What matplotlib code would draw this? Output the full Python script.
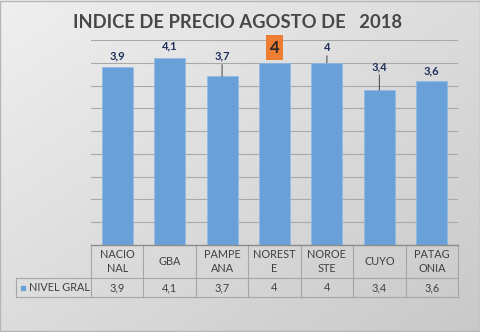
import numpy as np
import matplotlib
matplotlib.use("Agg")
import matplotlib.pyplot as plt
from matplotlib.transforms import blended_transform_factory
from matplotlib.patches import Rectangle
from matplotlib.lines import Line2D

# ---- data ----
categories = ["NACIO\nNAL", "GBA", "PAMPE\nANA", "NOREST\nE", "NOROE\nSTE", "CUYO", "PATAG\nONIA"]
values = [3.9, 4.1, 3.7, 4.0, 4.0, 3.4, 3.6]
value_labels = ["3,9", "4,1", "3,7", "4", "4", "3,4", "3,6"]
series_name = "NIVEL GRAL"
title = "INDICE DE PRECIO AGOSTO DE   2018"

W, H = 481, 332
fig = plt.figure(figsize=(W / 100, H / 100), dpi=100)
plt.rcParams['font.family'] = ['Lato', 'DejaVu Sans']

# background gradient
bg = fig.add_axes([0, 0, 1, 1], zorder=-10)
yy, xx = np.mgrid[0:1:100j, 0:1:100j]
grad = 0.5 * xx + 0.5 * yy
bg.imshow(grad, cmap=matplotlib.colors.LinearSegmentedColormap.from_list(
    "g", ["#efefef", "#c9c9c9"]), extent=[0, 1, 0, 1], aspect='auto', origin='upper')
bg.set_xlim(0, 1); bg.set_ylim(0, 1)
bg.axis('off')
bg.add_patch(Rectangle((0.001, 0.002), 0.997, 0.995, fill=False, ec="#b5b5b5", lw=1.0,
                       transform=bg.transAxes))

def px(x, y):
    return (x / W, 1 - y / H)

left, right, top, base = 91, 458, 40, 245
ax = fig.add_axes([left / W, (H - base) / H, (right - left) / W, (base - top) / H])
ax.set_facecolor('none')
x = np.arange(len(categories))
ax.set_xlim(-0.5, len(categories) - 0.5)
ax.set_ylim(0, 4.5)
ax.set_yticks(np.arange(0.5, 4.51, 0.5))
ax.yaxis.grid(True, color="#a9a9a9", lw=0.8)
ax.set_axisbelow(True)
ax.tick_params(left=False, bottom=False, labelleft=False, labelbottom=False)
for s in ax.spines.values():
    s.set_visible(False)

bars = ax.bar(x, values, width=0.59, color="#6aa0d8", edgecolor="#8dbbe8", lw=0.5, zorder=2)

label_color = "#1f2f5c"
# offsets (pt) of label center above the bar top, and whether a leader line is drawn
offsets = [8.5, 9, 14.5, 11, 11, 17, 7]
leaders = [False, False, True, False, True, True, False]
for i, (v, lab) in enumerate(zip(values, value_labels)):
    if i == 3:
        ax.annotate(lab, (x[i], v), xytext=(0, offsets[i]), textcoords='offset points',
                    ha='center', va='center', fontsize=12, fontweight='bold', color="#262626",
                    bbox=dict(boxstyle='square,pad=0.25', fc="#ed7d31", ec='none'),
                    annotation_clip=False, zorder=5)
        continue
    ax.annotate(lab, (x[i], v), xytext=(0, offsets[i]), textcoords='offset points',
                ha='center', va='center', fontsize=8, fontweight='bold', color=label_color,
                annotation_clip=False, zorder=5)
    if leaders[i]:
        ax.annotate("", (x[i], v), xytext=(0, offsets[i] - 6), textcoords='offset points',
                    arrowprops=dict(arrowstyle='-', color="#404040", lw=0.7,
                                    shrinkA=0, shrinkB=0),
                    annotation_clip=False, zorder=5)

# title
fig.text(*px(238, 22), title, ha='center', va='center', fontsize=13.2, fontweight='bold',
         color="#474747")

# ---- data table ----
tcol = "#a6a6a6"
trans = blended_transform_factory(ax.transData, fig.transFigure)
row1_y, row2_y, row3_y = 1 - 245 / H, 1 - 278 / H, 1 - 297 / H
for xb in np.arange(-0.5, len(categories), 1.0):
    fig.add_artist(Line2D([xb, xb], [row1_y, row3_y], transform=trans, color=tcol, lw=0.8))
fig.add_artist(Line2D([left / W, right / W], [row1_y, row1_y], color="#8c8c8c", lw=1.0))
for yv in (row2_y, row3_y):
    fig.add_artist(Line2D([16 / W, right / W], [yv, yv], color=tcol, lw=0.8))
fig.add_artist(Line2D([16 / W, 16 / W], [row2_y, row3_y], color=tcol, lw=0.8))

tcolor = "#404040"
for i, c in enumerate(categories):
    fig.text(x[i], 1 - 261.5 / H, c, transform=trans, ha='center', va='center',
             fontsize=7.8, color=tcolor, linespacing=1.4)
    fig.text(x[i], 1 - 287.5 / H, value_labels[i], transform=trans, ha='center',
             va='center', fontsize=7.8, color=tcolor)
fig.add_artist(Rectangle(px(21, 290), 4 / W, 4.5 / H, color="#6aa0d8"))
fig.text(*px(29.5, 287.5), series_name, ha='left', va='center', fontsize=7.8, color=tcolor)

fig.savefig("out.png", dpi=100)
